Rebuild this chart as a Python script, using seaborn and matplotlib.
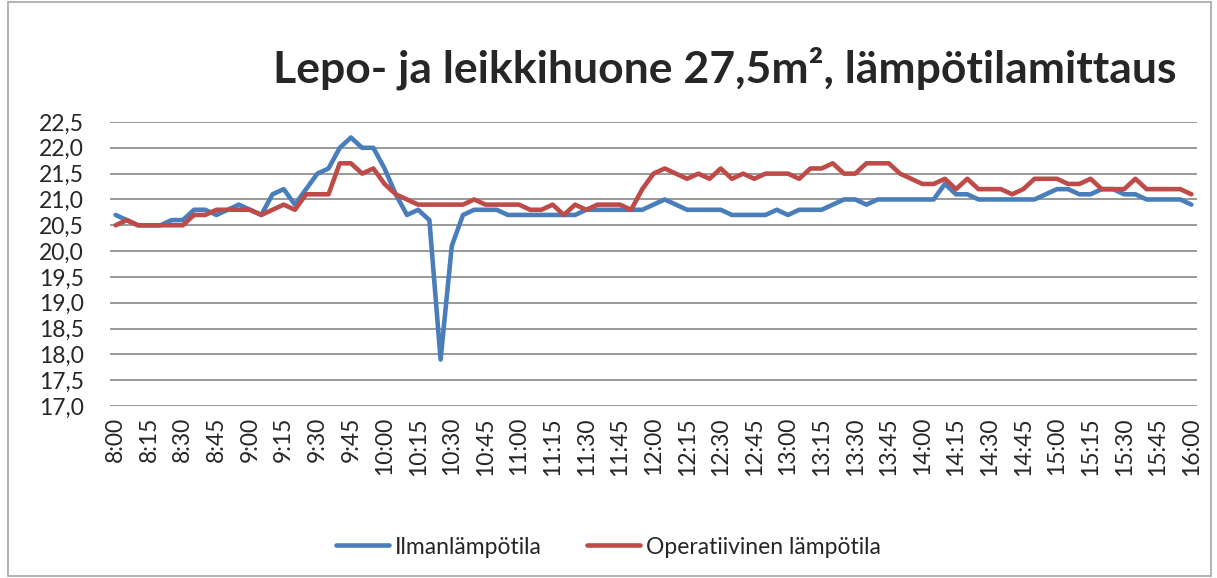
import numpy as np
import pandas as pd
import seaborn as sns
import matplotlib.pyplot as plt
from matplotlib.lines import Line2D
from matplotlib.patches import Rectangle
from matplotlib.ticker import FuncFormatter

# measurements every 5 minutes, 8:00 - 16:00
times = [f"{h}:{m:02d}" for h in range(8, 16) for m in range(0, 60, 5)] + ["16:00"]

ilman = [20.7, 20.6, 20.5, 20.5, 20.5, 20.6, 20.6, 20.8, 20.8, 20.7, 20.8, 20.9,
         20.8, 20.7, 21.1, 21.2, 20.9, 21.2, 21.5, 21.6, 22.0, 22.2, 22.0, 22.0,
         21.6, 21.1, 20.7, 20.8, 20.6, 17.9, 20.1, 20.7, 20.8, 20.8, 20.8, 20.7,
         20.7, 20.7, 20.7, 20.7, 20.7, 20.7, 20.8, 20.8, 20.8, 20.8, 20.8, 20.8,
         20.9, 21.0, 20.9, 20.8, 20.8, 20.8, 20.8, 20.7, 20.7, 20.7, 20.7, 20.8,
         20.7, 20.8, 20.8, 20.8, 20.9, 21.0, 21.0, 20.9, 21.0, 21.0, 21.0, 21.0,
         21.0, 21.0, 21.3, 21.1, 21.1, 21.0, 21.0, 21.0, 21.0, 21.0, 21.0, 21.1,
         21.2, 21.2, 21.1, 21.1, 21.2, 21.2, 21.1, 21.1, 21.0, 21.0, 21.0, 21.0,
         20.9]

operatiivinen = [20.5, 20.6, 20.5, 20.5, 20.5, 20.5, 20.5, 20.7, 20.7, 20.8, 20.8, 20.8,
                 20.8, 20.7, 20.8, 20.9, 20.8, 21.1, 21.1, 21.1, 21.7, 21.7, 21.5, 21.6,
                 21.3, 21.1, 21.0, 20.9, 20.9, 20.9, 20.9, 20.9, 21.0, 20.9, 20.9, 20.9,
                 20.9, 20.8, 20.8, 20.9, 20.7, 20.9, 20.8, 20.9, 20.9, 20.9, 20.8, 21.2,
                 21.5, 21.6, 21.5, 21.4, 21.5, 21.4, 21.6, 21.4, 21.5, 21.4, 21.5, 21.5,
                 21.5, 21.4, 21.6, 21.6, 21.7, 21.5, 21.5, 21.7, 21.7, 21.7, 21.5, 21.4,
                 21.3, 21.3, 21.4, 21.2, 21.4, 21.2, 21.2, 21.2, 21.1, 21.2, 21.4, 21.4,
                 21.4, 21.3, 21.3, 21.4, 21.2, 21.2, 21.2, 21.4, 21.2, 21.2, 21.2, 21.2,
                 21.1]

series_names = ["Ilmanlämpötila", "Operatiivinen lämpötila"]
colors = ["#4A7EBB", "#BE4B48"]

n = len(times)
df = pd.DataFrame({
    "idx": list(range(n)) * 2,
    "temp": ilman + operatiivinen,
    "sarja": [series_names[0]] * n + [series_names[1]] * n,
})

sns.set_style("white")
plt.rcParams['font.family'] = ['Lato', 'DejaVu Sans']
font_size = 16.5

fig = plt.figure(figsize=(12.17, 5.78), dpi=100)
ax = fig.add_axes([110 / 1217, 1 - 406 / 578, 1087 / 1217, 284 / 578])

sns.lineplot(data=df, x="idx", y="temp", hue="sarja", palette=colors,
             linewidth=3.3, ax=ax, legend=False, zorder=3)

ax.set_xlim(-0.5, n - 0.5)
ax.set_ylim(17.0, 22.5)
ax.set_yticks(np.arange(17.0, 22.51, 0.5))
ax.yaxis.set_major_formatter(FuncFormatter(lambda v, p: f"{v:.1f}".replace(".", ",")))
ax.set_xticks(range(0, n, 3))
ax.set_xticklabels(times[::3], rotation=90, fontsize=font_size)
ax.tick_params(axis='y', labelsize=font_size, pad=19, length=0)
ax.tick_params(axis='x', pad=8, length=0)
ax.grid(axis='y', color="#878787", linewidth=1.2)
ax.set_xlabel("")
ax.set_ylabel("")
for s in ax.spines.values():
    s.set_visible(False)

fig.text(725 / 1217, 1 - 68 / 578, "Lepo- ja leikkihuone 27,5m², lämpötilamittaus",
         ha="center", va="center", fontsize=32, fontweight="bold")

handles = [Line2D([0], [0], color=c, lw=3.3) for c in colors]
fig.legend(handles, series_names, loc="center", bbox_to_anchor=(0.5, 1 - 547 / 578),
           ncol=2, frameon=False, fontsize=font_size, handlelength=2.3, handletextpad=0.25,
           columnspacing=2.0)

fig.patches.append(Rectangle((8 / 1217, 2 / 578), 1203 / 1217, 574 / 578,
                             transform=fig.transFigure, fill=False,
                             edgecolor="#A6A6A6", linewidth=1.2))

fig.savefig("out.png", dpi=100)
